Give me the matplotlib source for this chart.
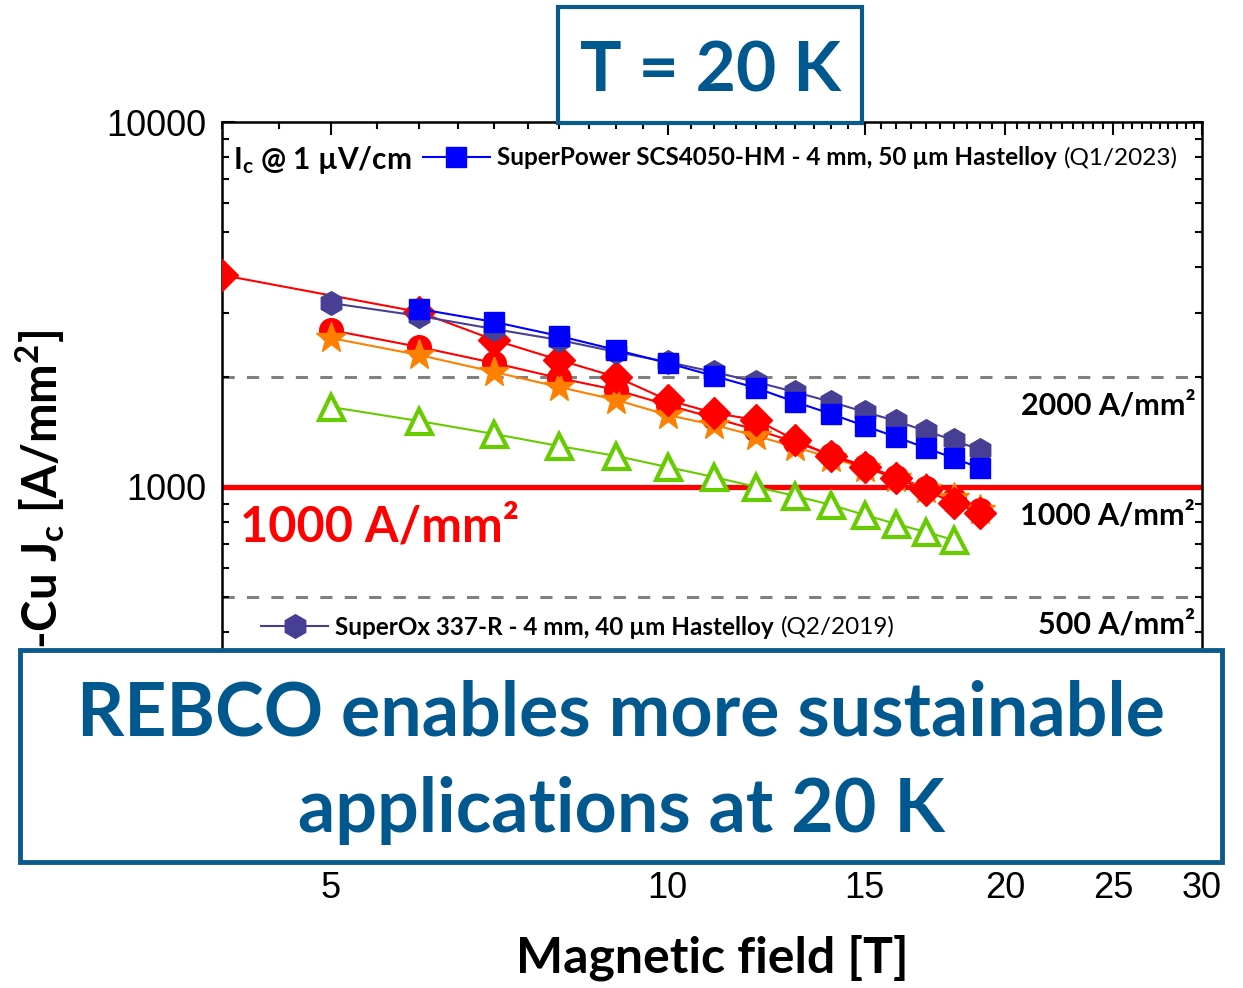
import numpy as np
import matplotlib
matplotlib.use("Agg")
import matplotlib.pyplot as plt
from matplotlib.patches import Rectangle
from matplotlib.ticker import FixedLocator, FixedFormatter, NullFormatter
from matplotlib.transforms import blended_transform_factory

# --- data (field in T, non-Cu Jc in A/mm2) ---
field_sp = [6, 7, 8, 9, 10, 11, 12, 13, 14, 15, 16, 17, 18, 19]
jc_sp = [3074, 2833, 2593, 2373, 2186, 2014, 1867, 1710, 1585, 1469, 1371, 1279, 1201, 1127]

field_so = [5, 6, 7, 8, 9, 10, 11, 12, 13, 14, 15, 16, 17, 18, 19]
jc_so = [3192, 2942, 2709, 2528, 2344, 2200, 2066, 1939, 1820, 1710, 1605, 1516, 1423, 1345, 1263]

field_dia = [4, 6, 7, 8, 9, 10, 11, 12, 13, 14, 15, 16, 17, 18, 19]
jc_dia = [3808, 3016, 2528, 2228, 2001, 1731, 1595, 1526, 1345, 1216, 1134, 1058, 981, 904, 849]

field_circ = [5, 6, 7, 8, 9, 10, 11, 12, 13, 14, 15, 16, 17, 18, 19]
jc_circ = [2692, 2419, 2186, 1988, 1844, 1678, 1545, 1433, 1328, 1223, 1142, 1065, 994, 927, 865]

field_star = [5, 6, 7, 8, 9, 10, 11, 12, 13, 14, 15, 16, 17, 18, 19]
jc_star = [2560, 2299, 2066, 1879, 1731, 1575, 1479, 1380, 1287, 1201, 1127, 1058, 988, 933, 865]

field_tri = [5, 6, 7, 8, 9, 10, 11, 12, 13, 14, 15, 16, 17, 18]
jc_tri = [1657, 1516, 1397, 1295, 1216, 1134, 1065, 1000, 945, 893, 838, 792, 753, 716]

ref_levels = [2000, 1000, 500]
ref_labels = ["2000 A/mm²", "1000 A/mm²", "500 A/mm²"]
ref_label_y = [1677, 838, 419]

xticks = [5, 10, 15, 20, 25, 30]
xtick_labels = ["5", "10", "15", "20", "25", "30"]

BOX = "#0b5a8c"
TXT = "#00588f"

plt.rcParams["mathtext.fontset"] = "custom"
plt.rcParams["mathtext.rm"] = "Lato"
plt.rcParams["mathtext.bf"] = "Lato:bold"

fig = plt.figure(figsize=(12.43, 9.88), dpi=100)
ax = fig.add_axes([222 / 1243, 1 - 852 / 988, 980 / 1243, 730 / 988])
ax.set_xscale("log")
ax.set_yscale("log")
ax.set_xlim(4, 30)
ax.set_ylim(100, 10000)

# reference lines
for lev in ref_levels:
    ax.axhline(lev, color="#808080", lw=2.2, ls=(0, (4, 4)), zorder=1)
ax.axhline(1000, color="#ff0000", lw=3.8, zorder=2)

ms_line = dict(lw=1.5)
ax.plot(field_tri, jc_tri, color="#66cc00", marker="^", ms=18, mfc="white",
        mew=3, zorder=3, **ms_line)
ax.plot(field_circ, jc_circ, color="#ff0000", marker="o", ms=17, zorder=4, **ms_line)
ax.plot(field_star, jc_star, color="#ff8000", marker="*", ms=23, zorder=5, **ms_line)
ax.plot(field_dia, jc_dia, color="#ff0000", marker="D", ms=16, zorder=6, **ms_line)
l_so, = ax.plot(field_so, jc_so, color="#463f94", marker="h", ms=17, zorder=7, **ms_line)
l_sp, = ax.plot(field_sp, jc_sp, color="#0000ff", marker="s", ms=15, zorder=8, **ms_line)

# ticks
ax.xaxis.set_major_locator(FixedLocator(xticks))
ax.xaxis.set_major_formatter(FixedFormatter(xtick_labels))
ax.xaxis.set_minor_locator(FixedLocator(np.arange(4, 30.01, 0.5)))
ax.xaxis.set_minor_formatter(NullFormatter())
ax.yaxis.set_major_locator(FixedLocator([100, 1000, 10000]))
ax.yaxis.set_major_formatter(FixedFormatter(["", "1000", "10000"]))
ax.tick_params(which="both", direction="in", top=True, right=True, width=1.5)
ax.tick_params(which="major", length=9)
ax.tick_params(which="minor", length=5)
ax.tick_params(axis="y", which="major", pad=11)
ax.tick_params(axis="x", which="major", pad=14)
for lab in ax.get_xticklabels() + ax.get_yticklabels():
    lab.set_fontfamily(["Liberation Sans", "DejaVu Sans"])
    lab.set_fontsize(26)
for sp in ax.spines.values():
    sp.set_linewidth(1.8)

ax.set_xlabel("Magnetic field [T]", fontfamily="Lato", fontweight="bold",
              fontsize=36, labelpad=20)

# reference labels
trans = blended_transform_factory(ax.transAxes, ax.transData)
for txt, yy in zip(ref_labels, ref_label_y):
    ax.text(0.993, yy, txt, transform=trans, ha="right", va="center",
            fontfamily="Lato", fontweight="bold", fontsize=22, zorder=9)
ax.text(0.018, 777, "1000 A/mm²", transform=trans, ha="left", va="center",
        color="#ff0000", fontfamily="Lato", fontweight="bold", fontsize=35, zorder=9)

ax.text(0.011, 0.948, r"$\mathbf{I_c}$ @ 1 µV/cm", transform=ax.transAxes,
        ha="left", va="center", fontfamily="Lato", fontweight="bold",
        fontsize=21.5, zorder=9)

# legends
leg_prop = dict(family="Lato", weight="bold", size=17.5)
leg1 = ax.legend([l_sp], ["SuperPower SCS4050-HM - 4 mm, 50 µm Hastelloy"],
                 loc="center left", bbox_to_anchor=(0.205, 0.951), frameon=False,
                 borderpad=0, borderaxespad=0, handlelength=2.75,
                 handletextpad=0.3, numpoints=1, prop=leg_prop)
ax.add_artist(leg1)
ax.annotate("(Q1/2023)", xy=(1, 0.5), xycoords=leg1.get_texts()[0],
            xytext=(5, 0), textcoords="offset points", ha="left", va="center",
            fontfamily="Lato", fontsize=17.5, zorder=9)

leg2 = ax.legend([l_so], ["SuperOx 337-R - 4 mm, 40 µm Hastelloy"],
                 loc="center left", bbox_to_anchor=(0.04, 0.308), frameon=False,
                 borderpad=0, borderaxespad=0, handlelength=2.75,
                 handletextpad=0.3, numpoints=1, prop=leg_prop)
ax.annotate("(Q2/2019)", xy=(1, 0.5), xycoords=leg2.get_texts()[0],
            xytext=(5, 0), textcoords="offset points", ha="left", va="center",
            fontfamily="Lato", fontsize=17.5, zorder=9)

# y label (partly hidden behind the box, as in the original)
fig.text(40 / 1243, 1 - 330 / 988, r"Non-Cu $\mathbf{J_c}$ [A/mm$^\mathbf{2}$]",
         rotation=90, ha="center", va="top", fontfamily="Lato",
         fontweight="bold", fontsize=34, zorder=1)

# T = 20 K box
fig.add_artist(Rectangle((558 / 1243, 1 - 123 / 988), 304 / 1243, 116 / 988,
                         transform=fig.transFigure, facecolor="white",
                         edgecolor=BOX, lw=3, zorder=5))
fig.text(711 / 1243, 1 - 92 / 988, "T = 20 K", ha="center", va="baseline",
         color=TXT, fontfamily="Lato", fontweight="bold", fontsize=50, zorder=6)

# message box
fig.add_artist(Rectangle((20 / 1243, 1 - 862 / 988), 1202 / 1243, 212 / 988,
                         transform=fig.transFigure, facecolor="white",
                         edgecolor=BOX, lw=3.5, zorder=5))
fig.text(621 / 1243, 1 - 735 / 988, "REBCO enables more sustainable",
         ha="center", va="baseline", color=TXT, fontfamily="Lato",
         fontweight="bold", fontsize=53, zorder=6)
fig.text(621 / 1243, 1 - 832 / 988, "applications at 20 K",
         ha="center", va="baseline", color=TXT, fontfamily="Lato",
         fontweight="bold", fontsize=53, zorder=6)

fig.savefig("out.png", dpi=100)
